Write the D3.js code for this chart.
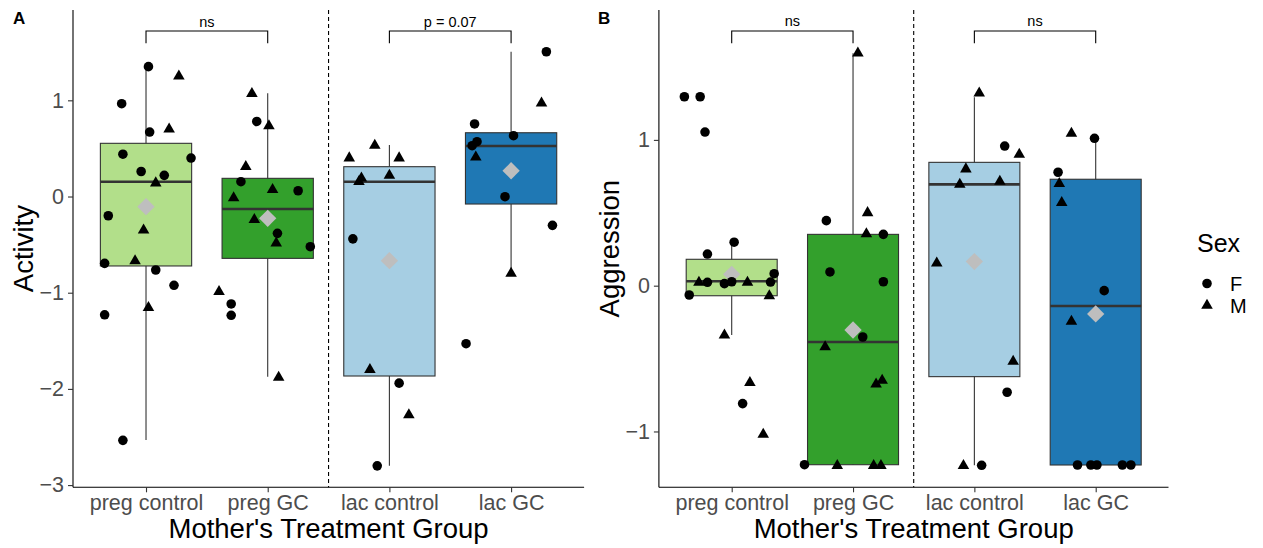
<!DOCTYPE html>
<meta charset="utf-8">
<head>
    <title>Activity and Aggression by Mother's Treatment Group</title>
    <style>
        body { margin: 0; background: #fff; }
        text { font-family: "Liberation Sans", Arial, sans-serif; }
    </style>
</head>

<script src="https://d3js.org/d3.v7.min.js"></script>

<div id="dataVis"></div>

<script>

    // categories and legend
    var groups = ["preg control", "preg GC", "lac control", "lac GC"];
    var sexes = ["F", "M"];

    // box stats (Activity)
    var activityLow = [-2.53, -1.873, -2.8, -0.79];
    var activityQ1 = [-0.722, -0.643, -1.866, -0.078];
    var activityMedian = [0.154, -0.13, 0.154, 0.525];
    var activityQ3 = [0.553, 0.189, 0.31, 0.663];
    var activityHigh = [1.35, 1.073, 0.535, 1.505];
    var activityMean = [-0.106, -0.227, -0.667, 0.268];

    // box stats (Aggression)
    var aggressionLow = [-0.338, -1.228, -1.232, -1.23];
    var aggressionQ1 = [-0.069, -1.228, -0.624, -1.23];
    var aggressionMedian = [0.03, -0.386, 0.695, -0.139];
    var aggressionQ3 = [0.181, 0.352, 0.846, 0.73];
    var aggressionHigh = [0.298, 1.594, 1.292, 1.011];
    var aggressionMean = [0.078, -0.304, 0.165, -0.194];

    // points: [group index, sex, value, jitter (in category units)]
    var activityPoints = [
        [0, "F", 1.35, 0.02], [0, "M", 1.25, 0.27], [0, "F", 0.965, -0.20], [0, "F", 0.67, 0.03],
        [0, "M", 0.70, 0.19], [0, "F", 0.44, -0.19], [0, "F", 0.40, 0.37], [0, "F", 0.26, -0.04],
        [0, "F", 0.22, 0.15], [0, "M", 0.14, 0.08], [0, "F", -0.2, -0.31], [0, "M", -0.35, -0.02],
        [0, "F", -0.695, -0.34], [0, "M", -0.67, -0.09], [0, "F", -0.764, 0.08], [0, "F", -0.923, 0.23],
        [0, "F", -1.23, -0.34], [0, "M", -1.155, 0.02], [0, "F", -2.535, -0.19],
        [1, "M", 1.07, -0.13], [1, "F", 0.78, -0.09], [1, "M", 0.735, 0.01], [1, "M", 0.31, -0.18],
        [1, "F", 0.154, -0.22], [1, "M", 0.07, 0.04], [1, "F", 0.06, 0.25], [1, "M", -0.015, -0.28],
        [1, "M", -0.24, -0.11], [1, "F", -0.383, 0.08], [1, "M", -0.485, 0.07], [1, "F", -0.522, 0.35],
        [1, "M", -0.99, -0.40], [1, "F", -1.117, -0.30], [1, "F", -1.235, -0.30], [1, "M", -1.88, 0.09],
        [2, "M", 0.53, -0.12], [2, "M", 0.40, -0.33], [2, "M", 0.40, 0.08], [2, "M", 0.22, 0.0],
        [2, "M", 0.19, -0.23], [2, "M", 0.155, -0.25], [2, "F", -0.44, -0.30], [2, "M", -1.80, -0.16],
        [2, "F", -1.94, 0.08], [2, "M", -2.27, 0.16], [2, "F", -2.8, -0.10],
        [3, "F", 1.505, 0.29], [3, "M", 0.97, 0.25], [3, "F", 0.754, -0.30], [3, "F", 0.632, 0.02],
        [3, "F", 0.57, -0.28], [3, "F", 0.528, -0.32], [3, "M", 0.41, -0.29], [3, "F", -0.002, -0.05],
        [3, "F", -0.3, 0.34], [3, "M", -0.80, 0.0], [3, "F", -1.53, -0.37]
    ];

    var aggressionPoints = [
        [0, "F", 1.296, -0.39], [0, "F", 1.296, -0.26], [0, "F", 1.054, -0.22], [0, "F", 0.298, 0.02],
        [0, "F", 0.217, -0.20], [0, "F", 0.082, 0.35], [0, "M", 0.022, -0.27], [0, "F", 0.023, -0.20],
        [0, "F", 0.014, -0.06], [0, "F", 0.027, 0.0], [0, "M", 0.022, 0.13], [0, "F", 0.025, 0.32],
        [0, "F", -0.064, -0.35], [0, "M", -0.07, 0.31], [0, "M", -0.34, -0.06], [0, "M", -0.665, 0.15],
        [0, "F", -0.809, 0.09], [0, "M", -1.02, 0.26],
        [1, "M", 1.595, 0.04], [1, "M", 0.50, 0.12], [1, "F", 0.446, -0.22], [1, "M", 0.355, 0.11],
        [1, "F", 0.352, 0.25], [1, "F", 0.094, -0.19], [1, "F", 0.027, 0.25], [1, "F", -0.352, 0.08],
        [1, "M", -0.42, -0.23], [1, "M", -0.675, 0.19], [1, "M", -0.65, 0.24], [1, "F", -1.228, -0.40],
        [1, "M", -1.235, -0.13], [1, "M", -1.235, 0.17], [1, "M", -1.235, 0.23],
        [2, "M", 1.32, 0.04], [2, "F", 0.958, 0.25], [2, "M", 0.90, 0.37], [2, "M", 0.80, -0.07],
        [2, "M", 0.695, -0.12], [2, "M", 0.715, 0.21], [2, "M", 0.155, -0.31], [2, "M", -0.52, 0.32],
        [2, "F", -0.731, 0.27], [2, "M", -1.235, -0.09], [2, "F", -1.232, 0.06],
        [3, "M", 1.045, -0.20], [3, "F", 1.011, -0.01], [3, "F", 0.778, -0.31], [3, "M", 0.70, -0.30],
        [3, "M", 0.57, -0.28], [3, "F", -0.034, 0.07], [3, "M", -0.245, -0.20], [3, "F", -1.23, -0.15],
        [3, "F", -1.23, -0.04], [3, "F", -1.23, 0.01], [3, "F", -1.23, 0.22], [3, "F", -1.23, 0.29]
    ];

    // significance brackets: [from, to, label, y of bar, y of tips]
    var activityTests = [[0, 1, "ns", 1.72, 1.593], [2, 3, "p = 0.07", 1.72, 1.593]];
    var aggressionTests = [[0, 1, "ns", 1.747, 1.663], [2, 3, "ns", 1.747, 1.663]];

    var activityTicks = [-3, -2, -1, 0, 1];
    var aggressionTicks = [-1, 0, 1];

    var fills = ["#B2DF8A", "#33A02C", "#A6CEE3", "#1F78B4"];

    var width = 1263, height = 548;

    var svg = d3.select("#dataVis")
        .append("svg")
        .attr("width", width)
        .attr("height", height);

    var tri = d3.symbol().type(d3.symbolTriangle).size(58);
    var dot = d3.symbol().type(d3.symbolCircle).size(72);
    var diamond = d3.symbol().type(d3.symbolSquare).size(150);

    function drawPanel(opt) {
        var x = d3.scaleLinear().domain([0.4, 4.6]).range([opt.left, opt.right]);
        var y = d3.scaleLinear().domain(opt.domain).range([487.3, 10]);
        var g = svg.append("g");
        var bw = 0.75 / 2;

        // dashed separator between preg and lac
        g.append("line")
            .attr("x1", x(2.5)).attr("x2", x(2.5))
            .attr("y1", y.range()[1]).attr("y2", y.range()[0])
            .attr("stroke", "#000").attr("stroke-width", 1.1)
            .attr("stroke-dasharray", "4,3");

        // boxes
        var boxes = g.selectAll(".box").data(groups).enter().append("g");
        boxes.append("line")
            .attr("x1", function (d, i) { return x(i + 1); })
            .attr("x2", function (d, i) { return x(i + 1); })
            .attr("y1", function (d, i) { return y(opt.low[i]); })
            .attr("y2", function (d, i) { return y(opt.high[i]); })
            .attr("stroke", "#333").attr("stroke-width", 1.1);
        boxes.append("rect")
            .attr("x", function (d, i) { return x(i + 1 - bw); })
            .attr("width", function (d, i) { return x(i + 1 + bw) - x(i + 1 - bw); })
            .attr("y", function (d, i) { return y(opt.q3[i]); })
            .attr("height", function (d, i) { return y(opt.q1[i]) - y(opt.q3[i]); })
            .attr("fill", function (d, i) { return fills[i]; })
            .attr("stroke", "#333").attr("stroke-width", 1.1);
        boxes.append("line")
            .attr("x1", function (d, i) { return x(i + 1 - bw); })
            .attr("x2", function (d, i) { return x(i + 1 + bw); })
            .attr("y1", function (d, i) { return y(opt.median[i]); })
            .attr("y2", function (d, i) { return y(opt.median[i]); })
            .attr("stroke", "#333").attr("stroke-width", 2.6);

        // mean diamonds
        g.selectAll(".mean").data(opt.mean).enter().append("path")
            .attr("d", diamond)
            .attr("transform", function (d, i) { return "translate(" + x(i + 1) + "," + y(d) + ") rotate(45)"; })
            .attr("fill", "#BEBEBE");

        // jittered points
        g.selectAll(".pt").data(opt.points).enter().append("path")
            .attr("d", function (d) { return d[1] == "F" ? dot() : tri(); })
            .attr("transform", function (d) { return "translate(" + x(d[0] + 1 + d[3]) + "," + y(d[2]) + ")"; })
            .attr("fill", "#000");

        // axes
        var yAxis = g.append("g")
            .attr("transform", "translate(" + opt.left + ",0)")
            .call(d3.axisLeft(y).tickValues(opt.ticks).tickSize(5).tickPadding(4)
                .tickFormat(function (d) { return d < 0 ? "\u2212" + Math.abs(d) : d; }));
        var xAxis = g.append("g")
            .attr("transform", "translate(0," + 487.3 + ")")
            .call(d3.axisBottom(x).tickValues([1, 2, 3, 4]).tickSize(5).tickPadding(2)
                .tickFormat(function (d) { return groups[d - 1]; }));
        [xAxis, yAxis].forEach(function (a) {
            a.select(".domain").attr("stroke", "#000").attr("stroke-width", 1.1);
            a.selectAll(".tick line").attr("stroke", "#333").attr("stroke-width", 1.1);
            a.selectAll(".tick text").attr("fill", "#4D4D4D")
                .style("font-size", "21.5px")
                .style("font-family", "Liberation Sans, Arial, sans-serif");
        });
        yAxis.select(".domain").attr("d", "M0," + y.range()[1] + "V" + y.range()[0]);
        xAxis.select(".domain").attr("d", "M" + opt.left + ",0H" + opt.right);

        // significance brackets
        opt.tests.forEach(function (t) {
            g.append("path")
                .attr("d", "M" + x(t[0] + 1) + "," + y(t[4]) + "V" + y(t[3]) + "H" + x(t[1] + 1) + "V" + y(t[4]))
                .attr("fill", "none").attr("stroke", "#000").attr("stroke-width", 1.1);
            g.append("text")
                .attr("x", (x(t[0] + 1) + x(t[1] + 1)) / 2)
                .attr("y", y(t[3]) - 4.5)
                .attr("text-anchor", "middle")
                .style("font-size", "14.5px")
                .text(t[2]);
        });

        // titles
        g.append("text")
            .attr("transform", "translate(" + opt.yTitleX + "," + (y.range()[0] + y.range()[1]) / 2 + ") rotate(-90)")
            .attr("text-anchor", "middle")
            .style("font-size", "27.5px")
            .text(opt.title);
        g.append("text")
            .attr("x", (opt.left + opt.right) / 2)
            .attr("y", 538)
            .attr("text-anchor", "middle")
            .style("font-size", "27.5px")
            .text("Mother's Treatment Group");
        g.append("text")
            .attr("x", opt.tagX).attr("y", 24)
            .style("font-size", "17px").style("font-weight", "bold")
            .text(opt.tag);
    }

    drawPanel({
        left: 73, right: 584.1, domain: [-3.023, 1.939], ticks: activityTicks,
        low: activityLow, q1: activityQ1, median: activityMedian, q3: activityQ3, high: activityHigh,
        mean: activityMean, points: activityPoints, tests: activityTests,
        title: "Activity", yTitleX: 33, tag: "A", tagX: 13
    });

    drawPanel({
        left: 658.9, right: 1168.5, domain: [-1.383, 1.891], ticks: aggressionTicks,
        low: aggressionLow, q1: aggressionQ1, median: aggressionMedian, q3: aggressionQ3, high: aggressionHigh,
        mean: aggressionMean, points: aggressionPoints, tests: aggressionTests,
        title: "Aggression", yTitleX: 619, tag: "B", tagX: 598
    });

    // legend
    var legend = svg.append("g").attr("transform", "translate(1197,0)");
    legend.append("text").attr("x", 0).attr("y", 252).style("font-size", "25px").text("Sex");
    var items = legend.selectAll(".item").data(sexes).enter().append("g")
        .attr("transform", function (d, i) { return "translate(10," + (283.5 + i * 22) + ")"; });
    items.append("path")
        .attr("d", function (d) { return d == "F" ? dot() : tri(); })
        .attr("fill", "#000");
    items.append("text")
        .attr("x", 23).attr("dy", "0.36em")
        .style("font-size", "20px")
        .text(function (d) { return d; });

</script>
